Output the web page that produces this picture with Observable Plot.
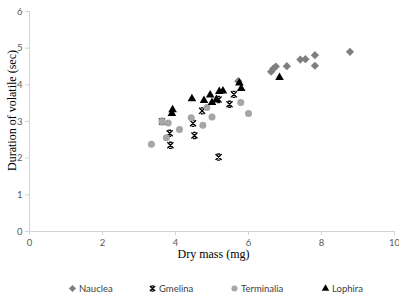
<!DOCTYPE html>
<html>
<head>
<meta charset="utf-8">
<script src="https://cdn.jsdelivr.net/npm/d3@7"></script>
<script src="https://cdn.jsdelivr.net/npm/@observablehq/plot@0.6"></script>
<style>
  body { margin: 0; background: #fff; }
  #chart { width: 399px; height: 270px; }
  #legend { display: flex; height: 36px; align-items: center; padding-left: 68px;
            font-family: Lato, "Open Sans", sans-serif; font-size: 9.5px; color: #404040; box-sizing: border-box; }
  #legend span.item { display: flex; align-items: center; gap: 2px; }
  #legend span.item:nth-child(1) { width: 80px; }
  #legend span.item:nth-child(2) { width: 82px; }
  #legend span.item:nth-child(3) { width: 91px; }
</style>
</head>
<body>
<div id="chart"></div>
<div id="legend"></div>
<script>
// Dry mass (mg) and duration of volatile (sec) per species
const naucleaMass     = [5.72, 6.62, 6.68, 6.75, 7.05, 7.42, 7.56, 7.82, 7.82, 8.78];
const naucleaDuration = [4.10, 4.36, 4.44, 4.50, 4.51, 4.69, 4.70, 4.81, 4.52, 4.90];

const gmelinaMass     = [3.63, 3.84, 3.86, 4.48, 4.52, 4.73, 5.18, 5.18, 5.48, 5.60];
const gmelinaDuration = [3.00, 2.68, 2.35, 2.95, 2.62, 3.29, 3.60, 2.03, 3.47, 3.74];

const terminaliaMass     = [3.34, 3.63, 3.80, 3.75, 4.11, 4.43, 4.75, 4.86, 5.00, 5.79, 6.00];
const terminaliaDuration = [2.38, 3.00, 2.96, 2.56, 2.78, 3.10, 2.90, 3.38, 3.12, 3.52, 3.22];

const lophiraMass     = [3.90, 3.92, 4.45, 4.78, 4.95, 5.00, 5.12, 5.20, 5.30, 5.75, 5.80, 6.85];
const lophiraDuration = [3.22, 3.32, 3.62, 3.57, 3.72, 3.52, 3.60, 3.82, 3.83, 4.05, 3.90, 4.20];

const seriesNames = ["Nauclea", "Gmelina", "Terminalia", "Lophira"];
const xTicks = [0, 2, 4, 6, 8, 10];
const yTicks = [0, 1, 2, 3, 4, 5, 6];

// X marker with short bars across its top and bottom
const barredCross = {
  draw(context, size) {
    const r = Math.sqrt(size) / 2;
    const b = r * 0.45;
    context.moveTo(-r, -r); context.lineTo(r, r);
    context.moveTo(r, -r); context.lineTo(-r, r);
    context.moveTo(-b, -r); context.lineTo(b, -r);
    context.moveTo(-b, r); context.lineTo(b, r);
  }
};

// Marker look per species
const markerStyle = {
  Nauclea:    {symbol: "diamond2", fill: "#7f7f7f", stroke: "none", r: 3.7, strokeWidth: 0},
  Gmelina:    {symbol: barredCross, fill: "none", stroke: "#000", r: 3.4, strokeWidth: 1.4},
  Terminalia: {symbol: "circle",   fill: "#a6a6a6", stroke: "none", r: 3.5, strokeWidth: 0},
  Lophira:    {symbol: "triangle", fill: "#000", stroke: "none", r: 3.2, strokeWidth: 0}
};

const seriesData = {
  Nauclea: naucleaMass.map((m, i) => ({mass: m, duration: naucleaDuration[i]})),
  Gmelina: gmelinaMass.map((m, i) => ({mass: m, duration: gmelinaDuration[i]})),
  Terminalia: terminaliaMass.map((m, i) => ({mass: m, duration: terminaliaDuration[i]})),
  Lophira: lophiraMass.map((m, i) => ({mass: m, duration: lophiraDuration[i]}))
};

const axisColor = "#d4d4d4";
const tickText = "#595959";

const plot = Plot.plot({
  width: 399,
  height: 270,
  marginLeft: 29,
  marginRight: 5,
  marginTop: 11,
  marginBottom: 39,
  style: {fontFamily: "Lato, 'Open Sans', sans-serif", fontSize: "9.5px", background: "#fff"},
  x: {domain: [0, 10]},
  y: {domain: [0, 6]},
  marks: [
    Plot.ruleY([0], {stroke: axisColor}),
    Plot.ruleX([0], {stroke: axisColor}),
    Plot.axisX({ticks: xTicks, tickFormat: d => d, tickSize: 4, tickPadding: 4, stroke: axisColor, fill: tickText, label: null}),
    Plot.axisY({ticks: yTicks, tickFormat: d => d, tickSize: 4, tickPadding: 3, stroke: axisColor, fill: tickText, label: null}),
    ...seriesNames.map(name => {
      const s = markerStyle[name];
      return Plot.dot(seriesData[name], {
        x: "mass", y: "duration",
        symbol: s.symbol, r: s.r,
        fill: s.fill, stroke: s.stroke, strokeWidth: s.strokeWidth
      });
    }),
    Plot.text(["Dry mass (mg)"], {frameAnchor: "bottom", textAnchor: "middle", lineAnchor: "middle", dx: 1.5, dy: 23,
      fontFamily: "Liberation Serif, serif", fontSize: 12, fill: "#000"}),
    Plot.text(["Duration of volatile (sec)"], {frameAnchor: "left", textAnchor: "middle", lineAnchor: "middle", rotate: -90, dx: -17, dy: -11,
      fontFamily: "Liberation Serif, serif", fontSize: 12, fill: "#000"})
  ]
});
document.getElementById("chart").append(plot);

// Legend row under the chart
const legend = d3.select("#legend");
const legendSymbols = {diamond2: d3.symbolDiamond2, circle: d3.symbolCircle, triangle: d3.symbolTriangle};
for (const name of seriesNames) {
  const s = markerStyle[name];
  const item = legend.append("span").attr("class", "item");
  const svg = item.append("svg").attr("width", 9).attr("height", 9);
  const symbolType = typeof s.symbol === "string" ? legendSymbols[s.symbol] : s.symbol;
  svg.append("path")
    .attr("transform", "translate(4.5,4.5)")
    .attr("d", d3.symbol(symbolType, Math.PI * s.r * s.r * 0.75)())
    .attr("fill", s.fill)
    .attr("stroke", s.stroke)
    .attr("stroke-width", s.strokeWidth);
  item.append("span").text(name);
}
</script>
</body>
</html>
